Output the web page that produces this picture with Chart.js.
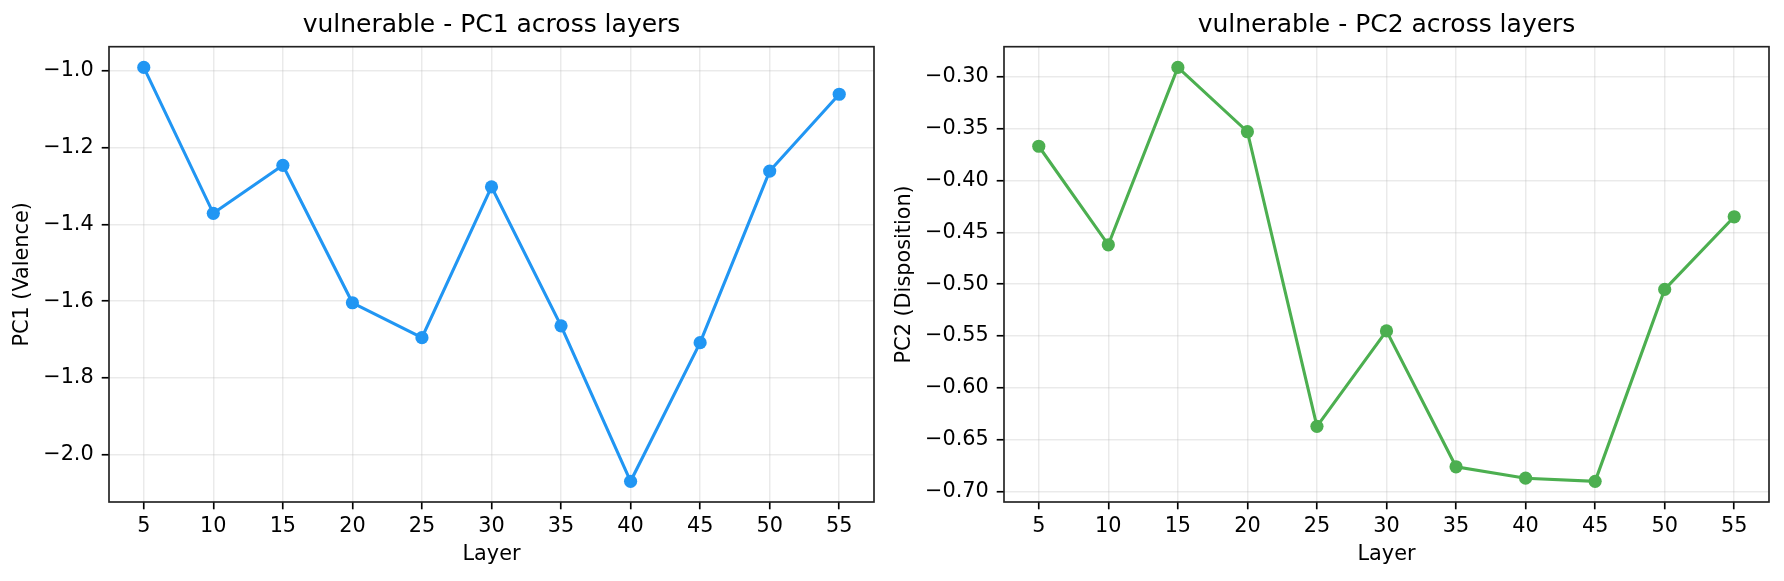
<!DOCTYPE html>
<html>
<head>
<meta charset="utf-8">
<script src="https://cdn.jsdelivr.net/npm/chart.js@4"></script>
<style>
  body { margin: 0; background: #fff; }
  canvas { position: absolute; top: 0; }
  #left { left: 0; }
  #right { left: 892px; }
</style>
</head>
<body>
<canvas id="left" width="892" height="581"></canvas>
<canvas id="right" width="892" height="581"></canvas>
<script>
const layers = [5, 10, 15, 20, 25, 30, 35, 40, 45, 50, 55];
const pc1 = [-0.991, -1.371, -1.246, -1.604, -1.695, -1.302, -1.664, -2.069, -1.708, -1.261, -1.061];
const pc2 = [-0.367, -0.462, -0.291, -0.353, -0.637, -0.545, -0.676, -0.687, -0.690, -0.505, -0.435];
const pc1Ticks = [-2.0, -1.8, -1.6, -1.4, -1.2, -1.0];
const pc2Ticks = [-0.70, -0.65, -0.60, -0.55, -0.50, -0.45, -0.40, -0.35, -0.30];

Chart.defaults.font.family = 'DejaVu Sans';
Chart.defaults.color = '#000';

// box around the plot area, like matplotlib spines
const spines = {
  id: 'spines',
  afterDraw(chart) {
    const a = chart.chartArea, c = chart.ctx;
    c.save();
    c.strokeStyle = '#222';
    c.lineWidth = 1.67;
    c.strokeRect(a.left, a.top, a.right - a.left, a.bottom - a.top);
    c.restore();
  }
};

function pad(vals) {
  const lo = Math.min(...vals), hi = Math.max(...vals), m = (hi - lo) * 0.05;
  return [lo - m, hi + m];
}

function makeChart(id, vals, ticks, digits, color, title, ylabel, yWidth, yTitlePad, rightPad) {
  const [ymin, ymax] = pad(vals);
  const grid = {
    color: 'rgba(176,176,176,0.27)', lineWidth: 1.5,
    tickLength: 7.3, tickColor: '#000', tickWidth: 1.67
  };
  return new Chart(document.getElementById(id), {
    type: 'line',
    data: {
      datasets: [{
        data: layers.map((x, i) => ({ x: x, y: vals[i] })),
        borderColor: color,
        backgroundColor: color,
        borderWidth: 3.1,
        pointRadius: 6.6,
        pointBorderWidth: 0,
        pointHoverRadius: 6.6,
        tension: 0
      }]
    },
    options: {
      responsive: false,
      animation: false,
      layout: { padding: { left: 0, right: rightPad, top: 0, bottom: 0 } },
      plugins: {
        legend: { display: false },
        tooltip: { enabled: false },
        title: {
          display: true, text: title, fullSize: false,
          font: { size: 25, weight: 'normal' }, color: '#000',
          padding: { top: 10.7, bottom: 6 }
        }
      },
      scales: {
        x: {
          type: 'linear', min: 2.5, max: 57.5,
          afterBuildTicks: s => { s.ticks = layers.map(v => ({ value: v })); },
          afterFit: s => { s.height = 79; },
          ticks: { font: { size: 20.8 }, color: '#000', padding: 5, autoSkip: false, maxRotation: 0,
                   callback: v => String(v) },
          grid: grid,
          border: { display: false },
          title: { display: true, text: 'Layer', font: { size: 20.8 }, color: '#000',
                   padding: { top: 0, bottom: 13.7 } }
        },
        y: {
          type: 'linear', min: ymin, max: ymax,
          afterBuildTicks: s => { s.ticks = ticks.map(v => ({ value: v })); },
          afterFit: s => { s.width = yWidth; },
          ticks: { font: { size: 20.8 }, color: '#000', padding: 8, autoSkip: false,
                   callback: v => v.toFixed(digits).replace('-', '\u2212') },
          grid: grid,
          border: { display: false },
          title: { display: true, text: ylabel, font: { size: 20.8 }, color: '#000',
                   padding: { top: yTitlePad, bottom: 0 } }
        }
      }
    },
    plugins: [spines]
  });
}

makeChart('left', pc1, pc1Ticks, 1, '#2196F3', 'vulnerable - PC1 across layers', 'PC1 (Valence)', 109, 10.1, 18);
makeChart('right', pc2, pc2Ticks, 2, '#4CAF50', 'vulnerable - PC2 across layers', 'PC2 (Disposition)', 112, 0.2, 15);
</script>
</body>
</html>
